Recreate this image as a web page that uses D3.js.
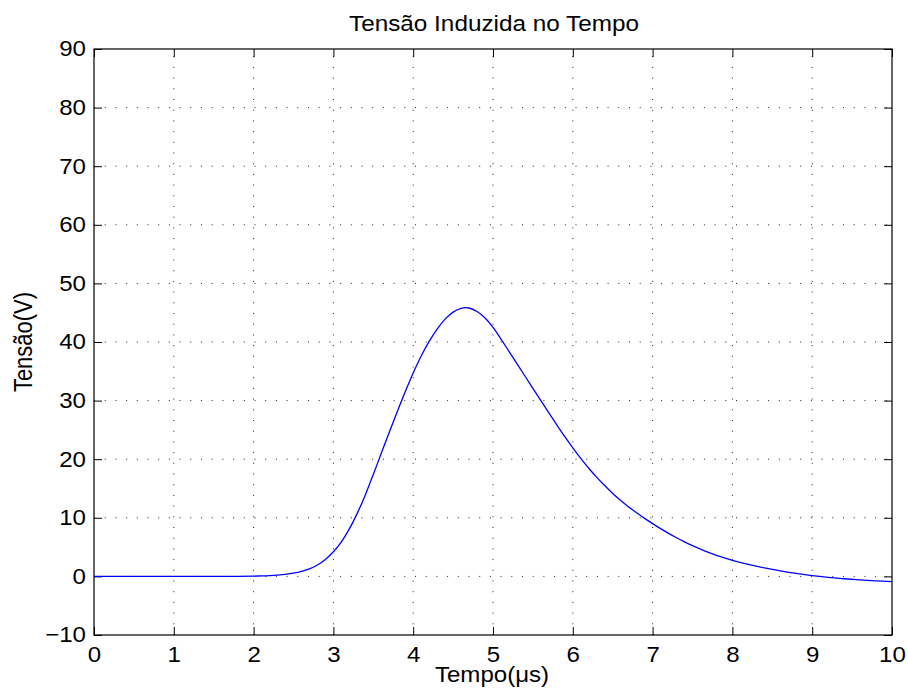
<!DOCTYPE html>
<html lang="pt">
<head>
<meta charset="UTF-8">
<title>Tensão Induzida no Tempo</title>
<script src="https://d3js.org/d3.v7.min.js"></script>
<style>
  body { margin: 0; background: #fff; }
  svg text { font-family: "Liberation Sans", Arial, sans-serif; fill: #000; }
  .grid line { stroke: #222; stroke-width: 1; stroke-dasharray: 1 9.7; }
</style>
</head>
<body>
<div id="chart"></div>
<script>
// valores
const tempo = [0, 0.5, 1.0, 1.5, 1.8, 2.0, 2.1, 2.2, 2.3, 2.4, 2.5, 2.6, 2.7, 2.8, 2.9, 3.0, 3.1, 3.2, 3.3,
  3.4, 3.5, 3.6, 3.7, 3.8, 3.9, 4.0, 4.1, 4.2, 4.3, 4.4, 4.5, 4.6, 4.7, 4.8, 4.9, 5.0, 5.1, 5.2, 5.3,
  5.4, 5.5, 5.6, 5.7, 5.8, 5.9, 6.0, 6.1, 6.2, 6.3, 6.4, 6.5, 6.6, 6.7, 6.8, 6.9, 7.0, 7.1, 7.2, 7.3,
  7.4, 7.5, 7.6, 7.7, 7.8, 7.9, 8.0, 8.2, 8.4, 8.6, 8.8, 9.0, 9.2, 9.4, 9.6, 9.8, 10.0];
const tensao = [0, 0, 0, 0, 0.02, 0.05, 0.08, 0.13, 0.22, 0.35, 0.55, 0.85, 1.3, 1.95, 2.9, 4.2, 5.9, 8.1, 10.8,
  13.9, 17.4, 21.0, 24.6, 28.1, 31.5, 34.7, 37.6, 40.1, 42.2, 43.9, 45.1, 45.75, 45.8, 45.2, 44.1, 42.5, 40.5, 38.4, 36.3,
  34.2, 32.1, 30.0, 27.9, 25.85, 23.85, 21.95, 20.15, 18.45, 16.9, 15.5, 14.15, 12.95, 11.85, 10.85, 9.9, 9.0, 8.15, 7.35, 6.6,
  5.9, 5.25, 4.65, 4.1, 3.6, 3.15, 2.75, 2.05, 1.45, 0.95, 0.5, 0.12, -0.17, -0.4, -0.6, -0.75, -0.88];
const xTicks = d3.range(0, 11, 1);
const yTicks = d3.range(-10, 100, 10);

const width = 908, height = 698;
const margin = { top: 49, right: 16, bottom: 63, left: 94 };
const w = width - margin.left - margin.right;
const h = height - margin.top - margin.bottom;
const fs = 21.5;     // tamanho da fonte
const sx = 1.12;     // o texto da figura original é mais largo que alto

const svg = d3.select("#chart").append("svg")
  .attr("width", width)
  .attr("height", height);

const g = svg.append("g").attr("transform", `translate(${margin.left},${margin.top})`);

const x = d3.scaleLinear().domain([0, 10]).range([0, w]);
const y = d3.scaleLinear().domain([-10, 90]).range([h, 0]);

// grade pontilhada
const grid = g.append("g").attr("class", "grid");
grid.selectAll(".vx").data(xTicks.slice(1, -1)).join("line")
  .attr("x1", d => x(d)).attr("x2", d => x(d))
  .attr("y1", h).attr("y2", 0);
grid.selectAll(".hy").data(yTicks.slice(1, -1)).join("line")
  .attr("x1", 0).attr("x2", w)
  .attr("y1", d => y(d)).attr("y2", d => y(d));

// eixos (ticks para dentro, caixa completa)
const tickLen = 8;
const fmt = d => d < 0 ? "\u2212" + Math.abs(d) : String(d);

const xAxis = g.append("g").attr("transform", `translate(0,${h})`)
  .call(d3.axisBottom(x).tickValues(xTicks).tickSize(-tickLen).tickPadding(12).tickFormat(fmt));
const yAxis = g.append("g")
  .call(d3.axisLeft(y).tickValues(yTicks).tickSize(-tickLen).tickPadding(8).tickFormat(fmt));
const xTop = g.append("g")
  .call(d3.axisTop(x).tickValues(xTicks).tickSize(-tickLen).tickFormat(""));
const yRight = g.append("g").attr("transform", `translate(${w},0)`)
  .call(d3.axisRight(y).tickValues(yTicks).tickSize(-tickLen).tickFormat(""));

[xAxis, yAxis, xTop, yRight].forEach(a => {
  a.select(".domain").remove();
  a.selectAll("line").attr("stroke", "#000");
  a.selectAll("text")
    .attr("font-size", fs)
    .attr("font-family", "Liberation Sans, Arial, sans-serif")
    .attr("x", function() { return (+this.getAttribute("x") || 0) / sx; })
    .attr("transform", `scale(${sx},1)`);
});

g.append("rect")
  .attr("width", w).attr("height", h)
  .attr("fill", "none").attr("stroke", "#000").attr("stroke-width", 1.2);

// curva
const line = d3.line()
  .x((d, i) => x(tempo[i]))
  .y(d => y(d))
  .curve(d3.curveCatmullRom.alpha(0.5));

g.append("path")
  .datum(tensao)
  .attr("fill", "none")
  .attr("stroke", "#0000ff")
  .attr("stroke-width", 1.3)
  .attr("d", line);

// títulos
svg.append("text")
  .attr("transform", `translate(${margin.left + w / 2 + 1},31) scale(${sx + 0.01},1)`)
  .attr("text-anchor", "middle").attr("font-size", fs)
  .text("Tensão Induzida no Tempo");

svg.append("text")
  .attr("transform", `translate(${margin.left + w / 2 - 1},682) scale(${sx},1)`)
  .attr("text-anchor", "middle").attr("font-size", fs)
  .text("Tempo(μs)");

svg.append("text")
  .attr("transform", `translate(32,${margin.top + h / 2}) scale(1.2,1) rotate(-90)`)
  .attr("text-anchor", "middle").attr("font-size", 22)
  .text("Tensão(V)");
</script>
</body>
</html>
